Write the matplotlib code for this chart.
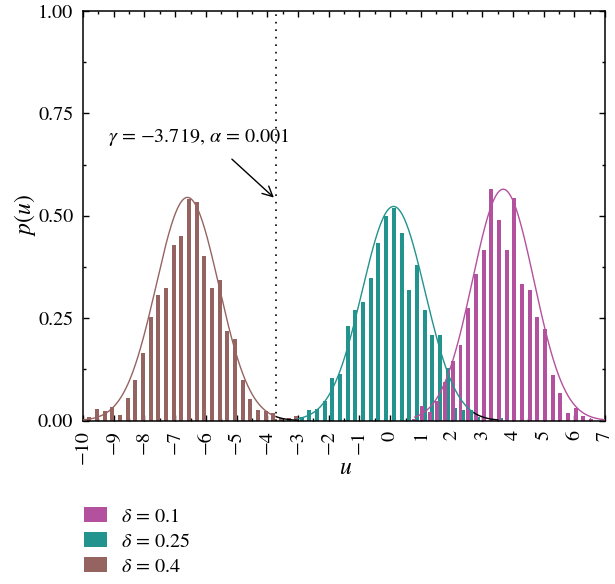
import numpy as np
import matplotlib.pyplot as plt
from matplotlib.ticker import MultipleLocator, FormatStrFormatter

# histogram bars (bin centres and heights)
brown_x = [-9.80, -9.55, -9.30, -9.05, -8.80, -8.55, -8.30, -8.05, -7.80, -7.55,
           -7.30, -7.05, -6.80, -6.55, -6.30, -6.05, -5.80, -5.55, -5.30, -5.05,
           -4.80, -4.55, -4.30, -4.05, -3.80, -3.55, -3.30, -3.05]
brown_p = [0.008, 0.029, 0.024, 0.034, 0.015, 0.055, 0.099, 0.165, 0.254, 0.306,
           0.324, 0.430, 0.450, 0.540, 0.534, 0.401, 0.324, 0.344, 0.220, 0.200,
           0.099, 0.054, 0.025, 0.024, 0.020, 0.006, 0.006, 0.012]

teal_x = [-2.88, -2.63, -2.38, -2.13, -1.88, -1.63, -1.38, -1.13, -0.88, -0.63,
          -0.38, -0.13, 0.12, 0.37, 0.62, 0.87, 1.12, 1.37, 1.62, 1.87,
          2.12, 2.37, 2.62, 2.87, 3.12, 3.37, 3.62]
teal_p = [0.008, 0.025, 0.029, 0.049, 0.104, 0.114, 0.230, 0.269, 0.289, 0.349,
          0.434, 0.500, 0.520, 0.459, 0.320, 0.379, 0.269, 0.210, 0.210, 0.129,
          0.030, 0.026, 0.026, 0.008, 0.0, 0.0, 0.006]

magenta_x = [0.79, 1.04, 1.29, 1.54, 1.79, 2.04, 2.29, 2.54, 2.79, 3.04,
             3.29, 3.54, 3.79, 4.04, 4.29, 4.54, 4.79, 5.04, 5.29, 5.54,
             5.79, 6.04, 6.29, 6.54]
magenta_p = [0.005, 0.035, 0.022, 0.049, 0.094, 0.146, 0.186, 0.275, 0.359, 0.416,
             0.565, 0.491, 0.416, 0.544, 0.334, 0.320, 0.254, 0.224, 0.112, 0.067,
             0.020, 0.030, 0.011, 0.004]

# fitted curves: (mean, sigma, peak height, start, end, black-from)
brown_fit = (-6.60, 1.02, 0.545, -10.0, -3.0, -3.719)
teal_fit = (0.11, 1.02, 0.523, -3.0, 3.5, 2.72)
magenta_fit = (3.68, 1.00, 0.565, 0.8, 7.0, None)

gamma = -3.719
labels = [r'$\delta$ = 0.1', r'$\delta$ = 0.25', r'$\delta$ = 0.4']

c_mag = '#B4519F'
c_teal = '#23938E'
c_brown = '#956461'

plt.rcParams['font.family'] = 'STIXGeneral'
plt.rcParams['mathtext.fontset'] = 'stix'
plt.rcParams['font.size'] = 14.5

fig = plt.figure(figsize=(6.15, 5.84), dpi=100)
ax = fig.add_axes([0.135, 0.2796, 0.849, 0.7016])

w = 0.13
b1 = ax.bar(brown_x, brown_p, w, color=c_brown, zorder=2)
b2 = ax.bar(teal_x, teal_p, w, color=c_teal, zorder=2)
b3 = ax.bar(magenta_x, magenta_p, w, color=c_mag, zorder=2)


def draw_fit(fit, color):
    mu, s, a, u0, u1, ublack = fit
    u = np.linspace(u0, u1, 400)
    p = a * np.exp(-0.5 * ((u - mu) / s) ** 2)
    if ublack is None:
        ax.plot(u, p, color=color, lw=1.0, zorder=3)
    else:
        m = u <= ublack
        ax.plot(u[m], p[m], color=color, lw=1.0, zorder=3)
        ax.plot(u[~m], p[~m], color='black', lw=1.0, zorder=3)


draw_fit(brown_fit, c_brown)
draw_fit(teal_fit, c_teal)
draw_fit(magenta_fit, c_mag)

ax.axvline(gamma, color='black', lw=1.2, ls=(0, (1, 3.5)), zorder=4)
ax.annotate('', xy=(gamma, 0.54), xytext=(-5.22, 0.643),
            arrowprops=dict(arrowstyle='->', color='black', lw=1.0, mutation_scale=18))
ax.text(-6.24, 0.692, r'$\gamma$ = −3.719, $\alpha$ = 0.001', ha='center', va='center')

ax.set_xlim(-10, 7)
ax.set_ylim(0, 1)
ax.xaxis.set_major_locator(MultipleLocator(1))
ax.xaxis.set_minor_locator(MultipleLocator(0.5))
ax.yaxis.set_major_locator(MultipleLocator(0.25))
ax.yaxis.set_minor_locator(MultipleLocator(0.125))
ax.yaxis.set_major_formatter(FormatStrFormatter('%.2f'))
ax.tick_params(which='both', direction='in', top=True, right=True, width=1.0)
ax.tick_params(which='major', length=4.5)
ax.tick_params(which='minor', length=2.5)
ax.tick_params(axis='x', which='major', pad=7, labelrotation=90)
ax.tick_params(axis='y', which='major', pad=7)
for sp in ax.spines.values():
    sp.set_linewidth(1.1)

ax.set_xlabel(r'$u$', fontsize=17)
ax.set_ylabel(r'$p(u)$', fontsize=17)
ax.xaxis.set_label_coords(0.503, -0.091)
ax.yaxis.set_label_coords(-0.087, 0.502)

fig.legend([b3, b2, b1], labels, loc='upper left', bbox_to_anchor=(0.137, 0.131),
           frameon=False, borderpad=0, borderaxespad=0, handlelength=1.15,
           handleheight=0.75, handletextpad=0.65, labelspacing=0.32)

fig.savefig('out.png', dpi=100)
